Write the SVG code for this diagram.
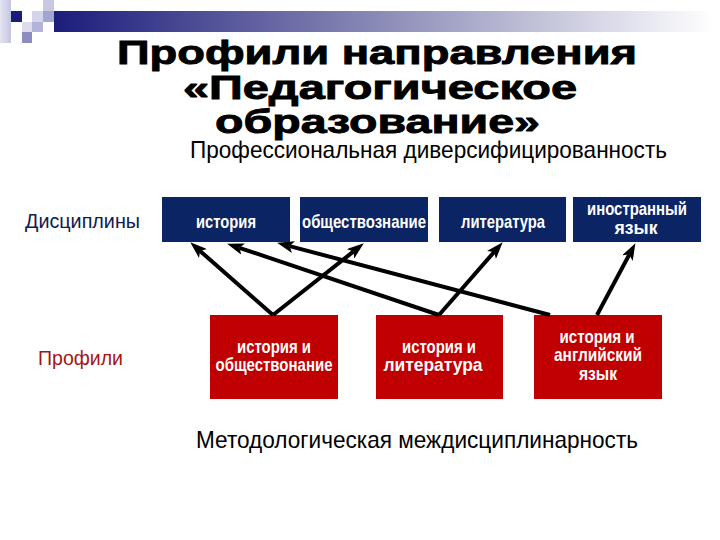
<svg xmlns="http://www.w3.org/2000/svg" width="720" height="540" viewBox="0 0 720 540">
  <defs>
    <linearGradient id="barGrad" x1="0" y1="0" x2="1" y2="0">
      <stop offset="0" stop-color="#1c1c7c"/>
      <stop offset="0.5" stop-color="#8c8cb8"/>
      <stop offset="1" stop-color="#ffffff"/>
    </linearGradient>
    <linearGradient id="sideGrad" x1="0" y1="0" x2="1" y2="0">
      <stop offset="0" stop-color="#e4e4f2"/>
      <stop offset="1" stop-color="#c4c4e2"/>
    </linearGradient>
    <marker id="arrow" markerUnits="userSpaceOnUse" markerWidth="18" markerHeight="12" viewBox="0 0 18 12" refX="4" refY="6" orient="auto">
      <path d="M0,0 L17,6 L0,12 L4,6 Z" fill="#000"/>
    </marker>
    <style>
      .title { font-family: "Liberation Sans", Arial, sans-serif; font-weight: bold; font-size: 34px; fill: #000; stroke: #000; stroke-width: 0.9; }
      .sub { font-family: "Liberation Sans", Arial, sans-serif; font-size: 24px; fill: #000; }
      .lbl { font-family: "Liberation Sans", Arial, sans-serif; font-size: 21px; }
      .disc rect { fill: #0b2463; }
      .prof rect { fill: #c00000; }
      .btxt { font-family: "Liberation Sans", Arial, sans-serif; font-weight: bold; font-size: 19px; fill: #ffffff; text-anchor: middle; }
      .conn line { stroke: #000; stroke-width: 4; marker-end: url(#arrow); }
    </style>
  </defs>
  <rect width="720" height="540" fill="#ffffff"/>

  <!-- decoration -->
  <g id="decor">
    <rect x="54" y="11" width="660" height="21" fill="url(#barGrad)"/>
    <rect x="0" y="0" width="11" height="43" fill="url(#sideGrad)"/>
    <rect x="11" y="11" width="11" height="11" fill="#1c1c7c"/>
    <rect x="43" y="0" width="11" height="11" fill="#c8c8e2"/>
    <rect x="32" y="11" width="11" height="11" fill="#d4d4ea"/>
    <rect x="43" y="11" width="11" height="11" fill="#a4a4d0"/>
    <rect x="22" y="22" width="10" height="10" fill="#dcdcee"/>
    <rect x="32" y="22" width="11" height="10" fill="#b4b4da"/>
    <rect x="22" y="32" width="10" height="11" fill="#8c8cc0"/>
  </g>

  <!-- title -->
  <g id="title">
    <text class="title" x="117" y="64" textLength="520" lengthAdjust="spacingAndGlyphs">Профили направления</text>
    <text class="title" x="183" y="99" textLength="394" lengthAdjust="spacingAndGlyphs">«Педагогическое</text>
    <text class="title" x="215" y="133" textLength="325" lengthAdjust="spacingAndGlyphs">образование»</text>
  </g>

  <text id="sub-top" class="sub" x="190" y="158" textLength="477" lengthAdjust="spacingAndGlyphs">Профессиональная диверсифицированность</text>
  <text id="label-disc" class="lbl" x="25" y="228" fill="#0d2050" textLength="115" lengthAdjust="spacingAndGlyphs">Дисциплины</text>
  <text id="label-prof" class="lbl" x="38" y="365" fill="#a31515" textLength="85" lengthAdjust="spacingAndGlyphs">Профили</text>
  <text id="sub-bottom" class="sub" x="196" y="448" textLength="442" lengthAdjust="spacingAndGlyphs">Методологическая междисциплинарность</text>

  <!-- disciplines -->
  <g id="d-history" class="disc">
    <rect x="162" y="197" width="128" height="45"/>
    <text class="btxt" x="226" y="228" textLength="60" lengthAdjust="spacingAndGlyphs">история</text>
  </g>
  <g id="d-social" class="disc">
    <rect x="300" y="197" width="128" height="45"/>
    <text class="btxt" x="364" y="228" textLength="124" lengthAdjust="spacingAndGlyphs">обществознание</text>
  </g>
  <g id="d-literature" class="disc">
    <rect x="439" y="197" width="127" height="45"/>
    <text class="btxt" x="503" y="228" textLength="84" lengthAdjust="spacingAndGlyphs">литература</text>
  </g>
  <g id="d-language" class="disc">
    <rect x="573" y="197" width="128" height="45"/>
    <text class="btxt" x="637" y="215" textLength="100" lengthAdjust="spacingAndGlyphs">иностранный</text>
    <text class="btxt" x="636" y="234" textLength="43" lengthAdjust="spacingAndGlyphs">язык</text>
  </g>

  <!-- profiles -->
  <g id="p-hist-social" class="prof">
    <rect x="210" y="315" width="128" height="84"/>
    <text class="btxt" x="274" y="353" textLength="74" lengthAdjust="spacingAndGlyphs">история и</text>
    <text class="btxt" x="274" y="371" textLength="117" lengthAdjust="spacingAndGlyphs">обществонание</text>
  </g>
  <g id="p-hist-lit" class="prof">
    <rect x="376" y="315" width="127" height="84"/>
    <text class="btxt" x="439" y="353" textLength="74" lengthAdjust="spacingAndGlyphs">история и</text>
    <text class="btxt" x="433" y="371" textLength="99" lengthAdjust="spacingAndGlyphs">литература</text>
  </g>
  <g id="p-hist-eng" class="prof">
    <rect x="534" y="315" width="128" height="84"/>
    <text class="btxt" x="597" y="343" textLength="75" lengthAdjust="spacingAndGlyphs">история и</text>
    <text class="btxt" x="598" y="361" textLength="88" lengthAdjust="spacingAndGlyphs">английский</text>
    <text class="btxt" x="598" y="380" textLength="38" lengthAdjust="spacingAndGlyphs">язык</text>
  </g>

  <!-- connectors -->
  <g id="connectors" class="conn">
    <line x1="273" y1="315" x2="200" y2="250.9"/>
    <line x1="273" y1="315" x2="353.6" y2="251.4"/>
    <line x1="439" y1="315" x2="239.4" y2="247.8"/>
    <line x1="550" y1="315" x2="289.6" y2="246.1"/>
    <line x1="439" y1="315" x2="494.1" y2="252"/>
    <line x1="597" y1="315" x2="629.3" y2="254.6"/>
  </g>
</svg>
